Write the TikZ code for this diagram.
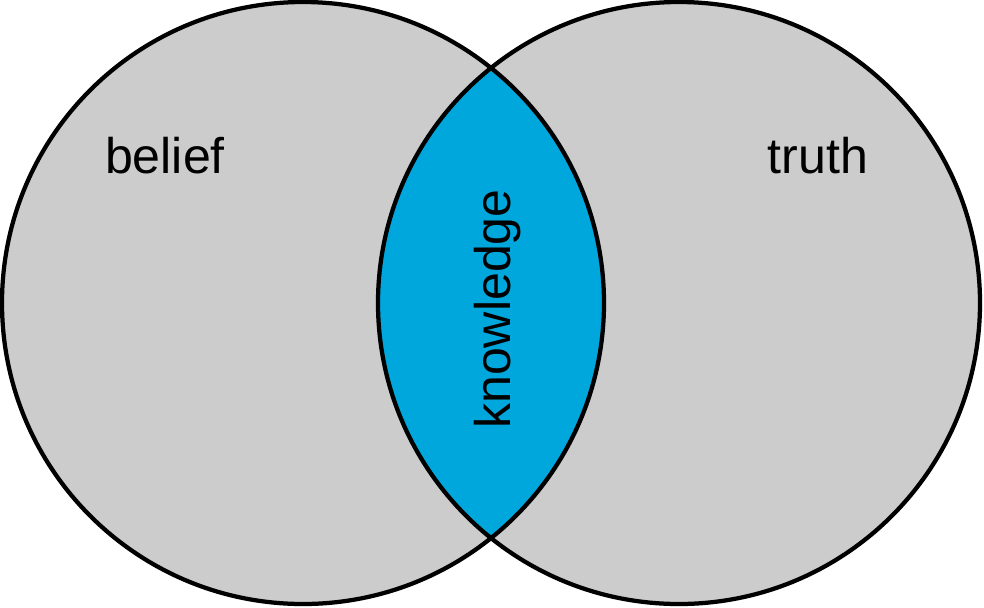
\documentclass[tikz,border=0pt]{standalone}
\usepackage{fontspec}
\setmainfont{Liberation Sans}
\definecolor{setgray}{RGB}{204,204,204}
\definecolor{lensblue}{RGB}{0,167,220}
\begin{document}
\begin{tikzpicture}[line join = round, line cap = round,font=\fontsize{28.5}{34}\selectfont]
\def\r{6.02}
\def\xb{6.06} \def\xt{13.58} \def\yc{-6.06}
\useasboundingbox (0,0) rectangle (19.68,-12.14);
\coordinate (B) at (\xb,\yc);
\coordinate (T) at (\xt,\yc);
\fill[setgray] (B) circle (\r) (T) circle (\r);
\begin{scope}
\clip (B) circle (\r);
\fill[lensblue] (T) circle (\r);
\end{scope}
\draw[line width=0.085cm] (B) circle (\r) (T) circle (\r);
\node[anchor=base] (belief) at (3.30,-3.46) {belief};
\node[anchor=base] (truth) at (16.36,-3.46) {truth};
\node[anchor=base,rotate=90] (knowledge) at (10.20,-6.18) {knowledge};
\end{tikzpicture}
\end{document}
